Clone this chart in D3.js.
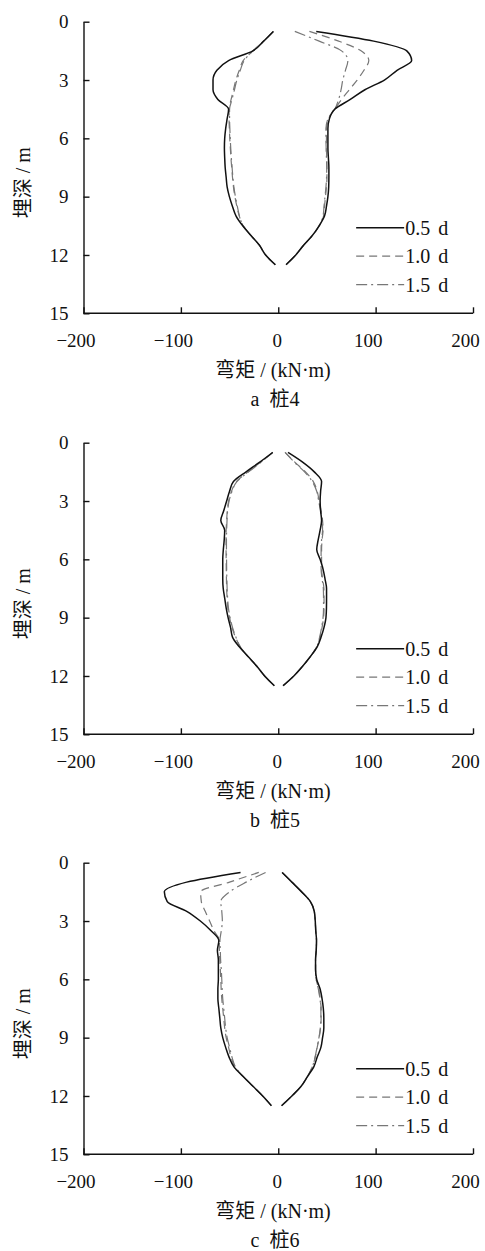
<!DOCTYPE html>
<html>
<head>
<meta charset="utf-8">
<script src="https://cdn.jsdelivr.net/npm/d3@7/dist/d3.min.js"></script>
<style>
  html, body { margin: 0; padding: 0; background: #fff; }
  svg { display: block; }
  text { font-family: "Liberation Serif", "Times New Roman", "Noto Sans CJK SC", serif; fill: #111; }
  .cjk { font-family: "Liberation Serif", "Noto Sans CJK SC", serif; white-space: pre; }
</style>
</head>
<body>
<svg id="chart" width="485" height="1251"></svg>
<script>
// Depth nodes along the pile (m)
const depths = [0.5, 1.0, 1.5, 2.0, 2.5, 3.0, 3.5, 4.0, 4.5, 5.0, 5.5, 6.0, 6.5,
                7.0, 7.5, 8.0, 8.5, 9.0, 9.5, 10.0, 10.5, 11.0, 11.5, 12.0, 12.5];

const seriesNames = ["0.5 d", "1.0 d", "1.5 d"];
const pileLabels = ["a  桩4", "b  桩5", "c  桩6"];
const xTickValues = [-200, -100, 0, 100, 200];
const yTickValues = [0, 3, 6, 9, 12, 15];

// Pile 4 — bending moment envelopes (kN·m), negative and positive sides
const pile4_05_neg = [-5, -15, -26, -51, -63, -67, -67, -62, -51, -52.5, -54, -55, -55.3, -55, -54.5, -53.5, -52.5, -50.2, -47, -43.3, -36.5, -28, -19.3, -13, -3];
const pile4_10_neg = [-5, -15, -26, -36, -40, -43.5, -46, -48.4, -50.5, -50.5, -50.2, -49.8, -49.2, -48.6, -47.8, -47, -46, -44.5, -42.5, -40, -36, -28, -19.3, -13, -3];
const pile4_15_neg = [-5, -15, -26, -35, -39, -42.5, -45, -47.5, -50, -50, -49.7, -49.3, -48.8, -48.2, -47.4, -46.6, -45.6, -44, -42, -39.8, -36, -28, -19.3, -13, -3];
const pile4_05_pos = [39, 98, 132, 137, 122, 109, 89, 74, 58, 52.5, 51, 51, 51, 51.5, 52, 52, 51.8, 51, 49.5, 47.5, 42, 35, 26, 18, 8];
const pile4_10_pos = [32, 62, 85, 93, 88, 81, 73, 65, 58, 51.5, 49.5, 49.5, 49.5, 49.8, 50, 50, 49.5, 48.5, 47.5, 46.5, 42, 35, 26, 18, 8];
const pile4_15_pos = [17, 42, 65, 71.5, 69, 66.3, 64.5, 62, 58, 51, 49, 49, 49.2, 49.5, 49.8, 49.6, 49, 48, 47, 46, 42, 35, 26, 18, 8];

// Pile 5
const pile5_05_neg = [-5.7, -19, -33, -46, -50, -53, -56, -59, -55, -55.5, -56.4, -57, -57, -57, -56.5, -55, -53.5, -51.5, -49, -47, -40, -31, -22, -14, -4];
const pile5_10_neg = [-5.7, -18, -31, -43, -48, -51, -52.3, -53, -53.5, -53.6, -53.6, -53.5, -53.4, -53.2, -53, -52.5, -51.8, -50, -47.5, -44, -39, -31, -22, -14, -4];
const pile5_15_neg = [-5.7, -17.5, -30.5, -42.5, -47.5, -50.5, -52, -52.6, -53, -53.2, -53.2, -53.1, -53, -52.8, -52.5, -52, -51.2, -49.5, -47, -43.5, -39, -31, -22, -14, -4];
const pile5_05_pos = [10, 25, 37, 44.5, 43.5, 43, 43.5, 44.5, 43, 41, 39.5, 43, 46, 48, 49.6, 49.6, 49.5, 49, 47, 44, 40, 33, 25, 16, 5];
const pile5_10_pos = [7, 17, 28, 36, 40, 42, 44, 45.5, 46, 45, 44.5, 44.5, 44.5, 45.5, 46.9, 47, 47, 46.5, 45, 43, 39.5, 33, 25, 16, 5];
const pile5_15_pos = [7, 16.5, 27, 35, 39.5, 41.5, 43.5, 45, 45.5, 44.5, 44, 44, 44, 45, 46.3, 46.5, 46.5, 46, 44.5, 42.5, 39.5, 33, 25, 16, 5];

// Pile 6
const pile6_05_neg = [-38.7, -94, -117, -114, -94, -80, -69, -61, -62.5, -61.5, -61.5, -61.5, -62, -62, -61, -60, -59, -57, -54, -50.5, -45.5, -36, -26, -16, -7];
const pile6_10_neg = [-20, -50, -79.7, -79, -75, -70.5, -66, -60.5, -60.5, -60, -59.5, -59, -58.6, -58, -57, -56, -55, -53.5, -51, -48.5, -44.5, -36, -26, -16, -7];
const pile6_15_neg = [-13, -33, -50, -59, -58, -57.4, -58.5, -59.9, -59.5, -59.2, -58.5, -58, -57.6, -57, -56, -55, -54, -52.5, -50, -47.5, -44, -36, -26, -16, -7];
const pile6_05_pos = [4, 14, 24, 33, 37, 38, 38.5, 39.3, 39, 38.3, 38.3, 39.5, 43, 45, 46.3, 46.8, 46.8, 45.5, 43.8, 40, 36.5, 30, 23.5, 14, 3.4];
const pile6_10_pos = [4, 14, 24, 33, 37, 38, 38.5, 39.3, 39, 38.3, 38.3, 39, 41.5, 43, 44, 44, 43.5, 42, 40, 38, 35, 30, 23.5, 14, 3.4];
const pile6_15_pos = [4, 14, 24, 33, 37, 38, 38.5, 39.3, 39, 38.3, 38.3, 39, 41.2, 42.8, 43.8, 43.8, 43.2, 41.8, 39.8, 37.8, 35, 30, 23.5, 14, 3.4];

const panels = [
  { label: pileLabels[0], series: [[pile4_05_neg, pile4_05_pos], [pile4_10_neg, pile4_10_pos], [pile4_15_neg, pile4_15_pos]] },
  { label: pileLabels[1], series: [[pile5_05_neg, pile5_05_pos], [pile5_10_neg, pile5_10_pos], [pile5_15_neg, pile5_15_pos]] },
  { label: pileLabels[2], series: [[pile6_05_neg, pile6_05_pos], [pile6_10_neg, pile6_10_pos], [pile6_15_neg, pile6_15_pos]] }
];

const styles = [
  { stroke: "#111", width: 1.5, dash: null },
  { stroke: "#777", width: 1.2, dash: "8,5" },
  { stroke: "#777", width: 1.2, dash: "11,4,2,4" }
];

const svg = d3.select("#chart");
const panelTop = [21.7, 442.7, 862.7];
const plotH = 291.6;
const axisX = 83.5, rightX = 473;

const x = d3.scaleLinear().domain([-200, 200]).range([axisX, rightX]);

panels.forEach((p, i) => {
  const top = panelTop[i];
  const y = d3.scaleLinear().domain([0, 15]).range([top, top + plotH]);
  const g = svg.append("g");

  // x axis with inward (upward) ticks
  const xAxis = g.append("g")
    .attr("transform", `translate(0,${top + plotH})`)
    .call(d3.axisBottom(x).tickValues(xTickValues).tickSize(-6).tickSizeOuter(0)
      .tickFormat(d => d < 0 ? "\u2212" + Math.abs(d) : d));
  xAxis.select(".domain").attr("stroke", "#111").attr("stroke-width", 1.4)
    .attr("d", `M${axisX},0H${rightX}`);
  xAxis.selectAll(".tick line").attr("stroke", "#111").attr("stroke-width", 1.4);
  xAxis.selectAll(".tick text").attr("y", 20).attr("dy", "0.71em")
    .attr("x", d => d === 0 ? -1.5 : -8)
    .attr("font-size", 19).attr("fill", "#111");

  // y axis with inward ticks
  const yAxis = g.append("g")
    .attr("transform", `translate(${axisX},0)`)
    .call(d3.axisLeft(y).tickValues(yTickValues).tickSize(-6).tickSizeOuter(0));
  yAxis.select(".domain").attr("stroke", "#111").attr("stroke-width", 1.4);
  yAxis.selectAll(".tick line").attr("stroke", "#111").attr("stroke-width", 1.4);
  yAxis.selectAll(".tick text").attr("x", -15).attr("font-size", 19).attr("fill", "#111");
  yAxis.selectAll("text").attr("font-family", "Liberation Serif, serif");
  xAxis.selectAll("text").attr("font-family", "Liberation Serif, serif");

  // axis titles
  g.append("text")
    .attr("class", "cjk")
    .attr("transform", `translate(23,${top + 161}) rotate(-90)`)
    .attr("text-anchor", "middle").attr("dy", "0.35em")
    .attr("font-size", 20)
    .text("埋深 / m");
  g.append("text")
    .attr("class", "cjk")
    .attr("x", 273).attr("y", top + 355)
    .attr("text-anchor", "middle")
    .attr("font-size", 20)
    .text("弯矩 / (kN·m)");
  g.append("text")
    .attr("class", "cjk")
    .attr("x", 275).attr("y", top + 384.5)
    .attr("text-anchor", "middle")
    .attr("font-size", 20)
    .text(p.label);

  // moment envelopes: draw 1.5 d, then 1.0 d, then 0.5 d on top
  const line = d3.line()
    .x(d => x(d[1]))
    .y(d => y(d[0]))
    .curve(d3.curveMonotoneY);

  [2, 1, 0].forEach(s => {
    const st = styles[s];
    p.series[s].forEach(vals => {
      g.append("path")
        .datum(depths.map((dp, k) => [dp, vals[k]]))
        .attr("d", line)
        .attr("fill", "none")
        .attr("stroke", st.stroke)
        .attr("stroke-width", st.width)
        .attr("stroke-dasharray", st.dash);
    });
  });

  // legend
  const lg = g.append("g").attr("transform", `translate(${x(80)},${top + 206})`);
  seriesNames.forEach((name, s) => {
    const st = styles[s];
    const row = lg.append("g").attr("transform", `translate(0,${s * 28.5})`);
    row.append("line")
      .attr("x1", 0).attr("x2", 48).attr("y1", 0).attr("y2", 0)
      .attr("stroke", st.stroke).attr("stroke-width", st.width)
      .attr("stroke-dasharray", st.dash);
    row.append("text")
      .attr("x", 49).attr("y", 0).attr("dy", "0.35em")
      .attr("font-size", 20)
      .attr("word-spacing", 3)
      .text(name);
  });
});
</script>
</body>
</html>
